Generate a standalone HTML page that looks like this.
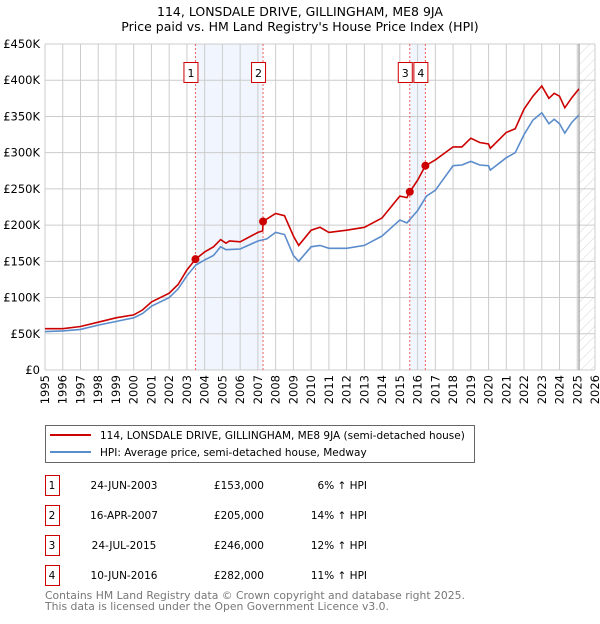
<!DOCTYPE html>
<html><head><meta charset="utf-8"><style>
body{margin:0;background:#fff;font-family:"DejaVu Sans","Liberation Sans",sans-serif;}
svg text{font-family:"DejaVu Sans","Liberation Sans",sans-serif;}
</style></head><body>
<svg id="c" width="600" height="620" viewBox="0 0 600 620" xmlns="http://www.w3.org/2000/svg">
<text x="300" y="16" text-anchor="middle" font-size="12.5" fill="#000">114, LONSDALE DRIVE, GILLINGHAM, ME8 9JA</text>
<text x="300" y="31" text-anchor="middle" font-size="12.5" fill="#000">Price paid vs. HM Land Registry's House Price Index (HPI)</text>
<g id="plot"></g>
<g>
<rect x="45.5" y="425.5" width="429" height="37" fill="#fff" stroke="#666"/>
<line x1="50" y1="435" x2="91" y2="435" stroke="#cc0000" stroke-width="2"/>
<text x="100" y="439" font-size="10.5">114, LONSDALE DRIVE, GILLINGHAM, ME8 9JA (semi-detached house)</text>
<line x1="50" y1="452" x2="91" y2="452" stroke="#5b8ccc" stroke-width="2"/>
<text x="100" y="456" font-size="10.5">HPI: Average price, semi-detached house, Medway</text>
</g>
<g id="table" font-size="10.5"></g>
<text x="45" y="599" font-size="10.8" fill="#777">Contains HM Land Registry data © Crown copyright and database right 2025.</text>
<text x="45" y="610" font-size="10.8" fill="#777">This data is licensed under the Open Government Licence v3.0.</text>
</svg>
<script>
const yTicks=[0,50000,100000,150000,200000,250000,300000,350000,400000,450000];
const yTickLabels=["£0","£50K","£100K","£150K","£200K","£250K","£300K","£350K","£400K","£450K"];
const years=[1995,1996,1997,1998,1999,2000,2001,2002,2003,2004,2005,2006,2007,2008,2009,2010,2011,2012,2013,2014,2015,2016,2017,2018,2019,2020,2021,2022,2023,2024,2025,2026];
const hpiT=[1995,1996,1997,1998,1999,2000,2000.5,2001,2002,2002.5,2003,2003.5,2004,2004.5,2004.9,2005.2,2006,2007,2007.5,2008,2008.5,2009,2009.3,2010,2010.5,2011,2012,2013,2014,2015,2015.4,2016,2016.5,2017,2018,2018.5,2019,2019.5,2020,2020.1,2021,2021.5,2022,2022.5,2023,2023.4,2023.7,2024,2024.3,2024.7,2025.1];
const hpiV=[53,54,56,62,67,72,78,88,100,112,130,145,152,158,170,166,167,178,181,190,187,158,150,170,172,168,168,172,185,207,203,220,240,248,282,283,288,283,282,276,293,300,325,345,355,340,346,340,327,342,352];
const redT=[1995,1996,1997,1998,1999,2000,2000.5,2001,2002,2002.5,2003,2003.48,2004,2004.5,2004.9,2005.2,2005.4,2006,2007,2007.27,2007.29,2008,2008.5,2009,2009.3,2010,2010.5,2011,2012,2013,2014,2015,2015.4,2015.56,2016,2016.44,2017,2018,2018.5,2019,2019.5,2020,2020.1,2021,2021.5,2022,2022.5,2023,2023.4,2023.7,2024,2024.3,2024.7,2025.1];
const redV=[57,57,60,66,72,76,83,94,106,118,138,153,163,170,180,175,178,177,190,192,205,216,213,185,172,193,197,190,193,197,210,240,238,246,262,282,290,308,308,320,314,312,306,328,333,360,378,392,375,382,378,362,376,388];
const saleLabels=["1","2","3","4"];
const saleT=[2003.48,2007.29,2015.56,2016.44];
const saleV=[153000,205000,246000,282000];
const saleDates=["24-JUN-2003","16-APR-2007","24-JUL-2015","10-JUN-2016"];
const salePrices=["£153,000","£205,000","£246,000","£282,000"];
const saleHpi=["6% \u2191 HPI","14% \u2191 HPI","12% \u2191 HPI","11% \u2191 HPI"];
const dataEnd=2025.1;

const NS="http://www.w3.org/2000/svg";
const L=45,R=595,T=44,B=370;
const x=t=>L+(t-1995)*(R-L)/31;
const y=v=>B-v*(B-T)/450000;
const g=document.getElementById('plot');
function mk(tag,a,p){const e=document.createElementNS(NS,tag);for(const k in a)e.setAttribute(k,a[k]);(p||g).appendChild(e);return e;}
let s=mk('rect',{x:x(saleT[0]),y:T,width:x(saleT[1])-x(saleT[0]),height:B-T,fill:'#eef3fc',opacity:0.8});


s=mk('rect',{x:x(saleT[2]),y:T,width:x(saleT[3])-x(saleT[2]),height:B-T,fill:'#eef3fc',opacity:0.8});


const defs=mk('defs',{});
const pat=mk('pattern',{id:'h',width:7,height:7,patternUnits:'userSpaceOnUse',patternTransform:'rotate(45)'},defs);
mk('line',{x1:0,y1:0,x2:0,y2:7,stroke:'#ccc','stroke-width':0.8},pat);
s=mk('rect',{x:x(dataEnd),y:T,width:R-x(dataEnd),height:B-T,fill:'url(#h)'});


yTicks.forEach((v,i)=>{
 const ln=mk('line',{x1:L,x2:R,y1:y(v),y2:y(v),stroke:'#ccc','stroke-width':1});
 
 
 const t=mk('text',{x:L-5,y:y(v)+4,'text-anchor':'end','font-size':11.5});
 
 
 t.textContent=yTickLabels[i];
});
years.forEach(yr=>{
 const ln=mk('line',{x1:x(yr),x2:x(yr),y1:T,y2:B,stroke:'#ccc','stroke-width':1});
 
 
 const t=mk('text',{x:0,y:0,'text-anchor':'end','font-size':11.5,transform:`translate(${x(yr)+4},${B+5}) rotate(-90)`});
 
 
 t.textContent=yr;
});
s=mk('line',{x1:x(dataEnd),x2:x(dataEnd),y1:T,y2:B,stroke:'#888','stroke-width':1});


saleT.forEach((t,i)=>{
 const ln=mk('line',{x1:x(t),x2:x(t),y1:T,y2:B,stroke:'#f06060','stroke-width':1,'stroke-dasharray':'2,2'});
 
 
 const bx=x(t)-11;
 const r=mk('rect',{x:bx-0.5,y:62.5,width:14,height:20,fill:'#fff',stroke:'#cc0000'});
 
 
 const tx=mk('text',{x:bx+6.5,y:77,'text-anchor':'middle','font-size':11});
 
 
 tx.textContent=saleLabels[i];
});
function path(ts,vs){return ts.map((t,i)=>(i?'L':'M')+x(t).toFixed(1)+','+y(vs[i]*1000).toFixed(1)).join('');}
s=mk('path',{d:path(hpiT,hpiV),fill:'none',stroke:'#5b8ccc','stroke-width':1.6});


s=mk('path',{d:path(redT,redV),fill:'none',stroke:'#cc0000','stroke-width':1.6});


saleT.forEach((t,i)=>{
 const c=mk('circle',{cx:x(t),cy:y(saleV[i]),r:4,fill:'#cc0000'});
 
 
});
const tb=document.getElementById('table');
saleLabels.forEach((lb,i)=>{
 const yy=475+i*30;
 const r=mk('rect',{x:45.5,y:yy+0.5,width:14,height:20,fill:'#fff',stroke:'#cc0000'},tb);
 
 
 const cells=[[52,lb,'middle'],[124,saleDates[i],'middle'],[264,salePrices[i],'end'],[367,saleHpi[i],'end']];
 cells.forEach(c=>{
  const t=mk('text',{x:c[0],y:yy+14,'text-anchor':c[2]},tb);
  
  
  t.textContent=c[1];
 });
});
</script>
</body></html>
